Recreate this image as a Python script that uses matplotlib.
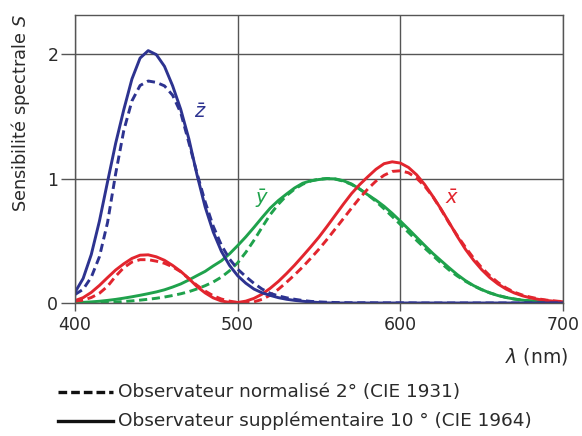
import numpy as np
import matplotlib.pyplot as plt
from matplotlib.lines import Line2D

# Longueurs d'onde (nm), pas de 5 nm
wl = list(range(400, 705, 5))

# Observateur 2 deg (CIE 1931) - pointillés
x2 = [0.014, 0.023, 0.044, 0.078, 0.134, 0.215, 0.284, 0.329, 0.348, 0.348, 0.336,
      0.319, 0.291, 0.251, 0.195, 0.142, 0.096, 0.058, 0.032, 0.015, 0.005, 0.002,
      0.009, 0.029, 0.063, 0.110, 0.166, 0.226, 0.290, 0.360, 0.433, 0.512, 0.595,
      0.678, 0.762, 0.843, 0.916, 0.979, 1.026, 1.057, 1.062, 1.046, 1.003, 0.938,
      0.854, 0.751, 0.642, 0.542, 0.448, 0.361, 0.284, 0.219, 0.165, 0.121, 0.087,
      0.064, 0.047, 0.033, 0.023, 0.016, 0.011]
y2 = [0.000, 0.001, 0.001, 0.002, 0.004, 0.007, 0.012, 0.017, 0.023, 0.030, 0.038,
      0.048, 0.060, 0.074, 0.091, 0.113, 0.139, 0.169, 0.208, 0.259, 0.323, 0.407,
      0.503, 0.608, 0.710, 0.793, 0.862, 0.915, 0.954, 0.980, 0.995, 1.000, 0.995,
      0.979, 0.952, 0.915, 0.870, 0.816, 0.757, 0.695, 0.631, 0.567, 0.503, 0.441,
      0.381, 0.321, 0.265, 0.217, 0.175, 0.138, 0.107, 0.082, 0.061, 0.045, 0.032,
      0.023, 0.017, 0.012, 0.008, 0.006, 0.004]
z2 = [0.068, 0.110, 0.207, 0.371, 0.646, 1.039, 1.386, 1.623, 1.747, 1.783, 1.772,
      1.744, 1.669, 1.528, 1.288, 1.042, 0.813, 0.616, 0.465, 0.353, 0.272, 0.212,
      0.158, 0.112, 0.078, 0.057, 0.042, 0.030, 0.020, 0.013, 0.009, 0.006, 0.004,
      0.003, 0.002, 0.002, 0.002, 0.001, 0.001, 0.001, 0.001, 0.001, 0.000, 0.000,
      0.000, 0.000, 0.000, 0.000, 0.000, 0.000, 0.000, 0.000, 0.000, 0.000, 0.000,
      0.000, 0.000, 0.000, 0.000, 0.000, 0.000]

# Observateur 10 deg (CIE 1964) - traits pleins
x10 = [0.019, 0.043, 0.085, 0.141, 0.204, 0.265, 0.315, 0.358, 0.384, 0.387, 0.371,
       0.343, 0.302, 0.254, 0.196, 0.132, 0.081, 0.041, 0.016, 0.005, 0.004, 0.015,
       0.037, 0.071, 0.118, 0.173, 0.236, 0.304, 0.377, 0.452, 0.530, 0.616, 0.705,
       0.794, 0.879, 0.951, 1.014, 1.074, 1.119, 1.134, 1.124, 1.089, 1.030, 0.951,
       0.856, 0.755, 0.647, 0.535, 0.432, 0.344, 0.268, 0.204, 0.153, 0.112, 0.081,
       0.058, 0.041, 0.029, 0.020, 0.014, 0.010]
y10 = [0.002, 0.005, 0.009, 0.014, 0.021, 0.029, 0.039, 0.050, 0.062, 0.075, 0.089,
       0.106, 0.128, 0.153, 0.185, 0.220, 0.254, 0.298, 0.339, 0.395, 0.461, 0.531,
       0.607, 0.686, 0.762, 0.823, 0.875, 0.924, 0.962, 0.982, 0.992, 0.999, 0.997,
       0.982, 0.956, 0.915, 0.869, 0.826, 0.777, 0.720, 0.658, 0.594, 0.528, 0.462,
       0.398, 0.340, 0.283, 0.228, 0.180, 0.140, 0.108, 0.081, 0.060, 0.044, 0.032,
       0.023, 0.016, 0.011, 0.008, 0.005, 0.004]
z10 = [0.086, 0.197, 0.389, 0.657, 0.973, 1.283, 1.553, 1.799, 1.967, 2.027, 1.995,
       1.901, 1.745, 1.555, 1.318, 1.030, 0.772, 0.570, 0.415, 0.302, 0.219, 0.159,
       0.112, 0.082, 0.061, 0.043, 0.030, 0.021, 0.014, 0.008, 0.004, 0.001, 0.000,
       0.000, 0.000, 0.000, 0.000, 0.000, 0.000, 0.000, 0.000, 0.000, 0.000, 0.000,
       0.000, 0.000, 0.000, 0.000, 0.000, 0.000, 0.000, 0.000, 0.000, 0.000, 0.000,
       0.000, 0.000, 0.000, 0.000, 0.000, 0.000]

xticks = [400, 500, 600, 700]
yticks = [0, 1, 2]

RED = '#e2252e'
GREEN = '#1fa24c'
BLUE = '#2d3390'
GRID = '#555555'
TXT = '#2a2a2a'

plt.rcParams['font.family'] = ['DejaVu Sans']
plt.rcParams['mathtext.fontset'] = 'dejavusans'

fig = plt.figure(figsize=(5.82, 4.36), dpi=100)
ax = fig.add_axes([75 / 582, 1 - 303 / 436, (563 - 75) / 582, (303 - 15) / 436])

lw = 2.1
dash = (0, (2.8, 1.6))
ax.plot(wl, y10, color=GREEN, lw=lw)
ax.plot(wl, y2, color=GREEN, lw=lw, ls=dash)
ax.plot(wl, x10, color=RED, lw=lw)
ax.plot(wl, x2, color=RED, lw=lw, ls=dash)
ax.plot(wl, z10, color=BLUE, lw=lw)
ax.plot(wl, z2, color=BLUE, lw=lw, ls=dash)

ax.set_xlim(400, 700)
ax.set_ylim(0, (303 - 15) / 124.5)
ax.set_xticks(xticks)
ax.set_yticks(yticks)
ax.grid(True, color=GRID, lw=1.0)
ax.set_axisbelow(True)
for s in ax.spines.values():
    s.set_color(GRID)
    s.set_linewidth(1.0)
ax.tick_params(axis='x', length=6, width=1, color=GRID, labelsize=12.5, pad=3,
               labelcolor=TXT)
ax.tick_params(axis='y', length=10, width=1, color=GRID, labelsize=12.5, pad=2,
               labelcolor=TXT)

fig.text(21 / 582, 1 - 113 / 436, 'Sensibilité spectrale $S$', fontsize=12.8,
         rotation=90, ha='center', va='center', color=TXT)
fig.text(568 / 582, 1 - 356 / 436, r'$\lambda$ (nm)', fontsize=13.5, ha='right',
         va='center', color=TXT)

ax.text(477, 1.53, r'$\bar{z}$', fontsize=14, color=BLUE, ha='center', va='center')
ax.text(515, 0.84, r'$\bar{y}$', fontsize=14, color=GREEN, ha='center', va='center')
ax.text(632, 0.84, r'$\bar{x}$', fontsize=14, color=RED, ha='center', va='center')

# légende sous le graphique
fig.add_artist(Line2D([58 / 582, 113 / 582], [1 - 392 / 436] * 2, color='#111111',
                      lw=2.4, ls=(0, (2.6, 1.2))))
fig.add_artist(Line2D([58 / 582, 113 / 582], [1 - 421 / 436] * 2, color='#111111', lw=2.4))
fig.text(118 / 582, 1 - 392 / 436, 'Observateur normalisé 2° (CIE 1931)', fontsize=13.3,
         va='center', color=TXT)
fig.text(118 / 582, 1 - 421 / 436, 'Observateur supplémentaire 10 ° (CIE 1964)',
         fontsize=13.3, va='center', color=TXT)

fig.savefig('out.png', dpi=100)
